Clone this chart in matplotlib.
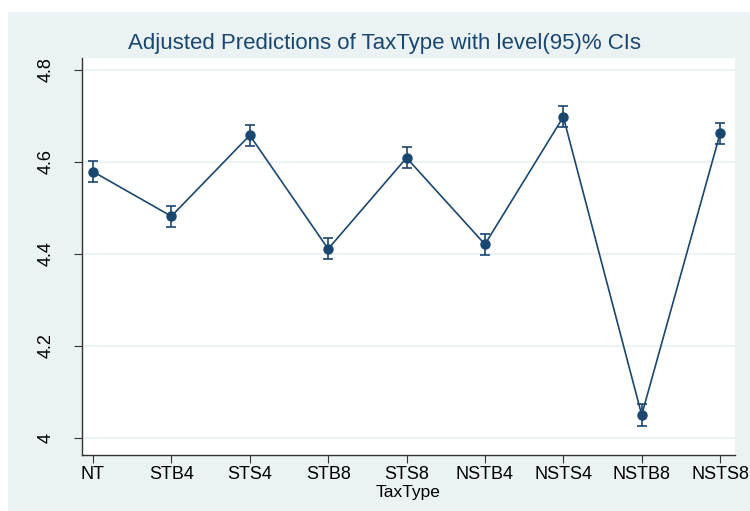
import matplotlib
matplotlib.use("Agg")
import matplotlib.pyplot as plt
from matplotlib.patches import Rectangle

categories = ["NT", "STB4", "STS4", "STB8", "STS8", "NSTB4", "NSTS4", "NSTB8", "NSTS8"]
margins = [4.579, 4.482, 4.658, 4.411, 4.609, 4.421, 4.698, 4.050, 4.662]
ci_low = [4.556, 4.459, 4.635, 4.388, 4.586, 4.398, 4.675, 4.027, 4.639]
ci_high = [4.602, 4.505, 4.681, 4.434, 4.632, 4.444, 4.721, 4.073, 4.685]
yticks = [4.0, 4.2, 4.4, 4.6, 4.8]
ytick_labels = ["4", "4.2", "4.4", "4.6", "4.8"]

plt.rcParams['font.family'] = ['Liberation Sans', 'DejaVu Sans']

navy = "#1A476F"
bg = "#EAF2F3"

fig = plt.figure(figsize=(7.5, 5.11), dpi=100)
fig.patch.set_facecolor("white")
fig.patches.append(Rectangle((8/750, 0.0), 1.0, (511-12)/511, transform=fig.transFigure,
                             facecolor=bg, edgecolor="none", zorder=-10))

ax = fig.add_axes([82/750, (511-455)/511, (735-82)/750, (455-58)/511])
ax.set_facecolor("white")
x = list(range(len(categories)))
yerr = [[m - l for m, l in zip(margins, ci_low)], [h - m for m, h in zip(margins, ci_high)]]
ax.plot(x, margins, color=navy, lw=1.2, zorder=3)
ax.errorbar(x, margins, yerr=yerr, fmt="o", color=navy, ms=6.5, capsize=3.5,
            elinewidth=1.2, capthick=1.2, zorder=4)

ax.set_xlim(-0.14, 8.19)
ax.set_ylim(3.963, 4.826)
ax.set_yticks(yticks)
ax.set_yticklabels(ytick_labels, rotation=90, va="center", fontsize=13)
ax.set_xticks(x)
ax.set_xticklabels(categories, fontsize=13)
ax.grid(axis="y", color=bg, lw=1.3)
ax.set_axisbelow(True)
for s in ["top", "right"]:
    ax.spines[s].set_visible(False)
for s in ["left", "bottom"]:
    ax.spines[s].set_color("#333333")
    ax.spines[s].set_linewidth(1.0)
ax.tick_params(axis="both", length=6, color="#333333", labelcolor="black")
ax.tick_params(axis="y", pad=14)
ax.tick_params(axis="x", pad=2)
ax.set_xlabel("TaxType", fontsize=12.5, labelpad=1)

fig.text(384/750, (511-44)/511, "Adjusted Predictions of TaxType with level(95)% CIs",
         ha="center", va="center", fontsize=16, color=navy)

fig.savefig("out.png", dpi=100)
